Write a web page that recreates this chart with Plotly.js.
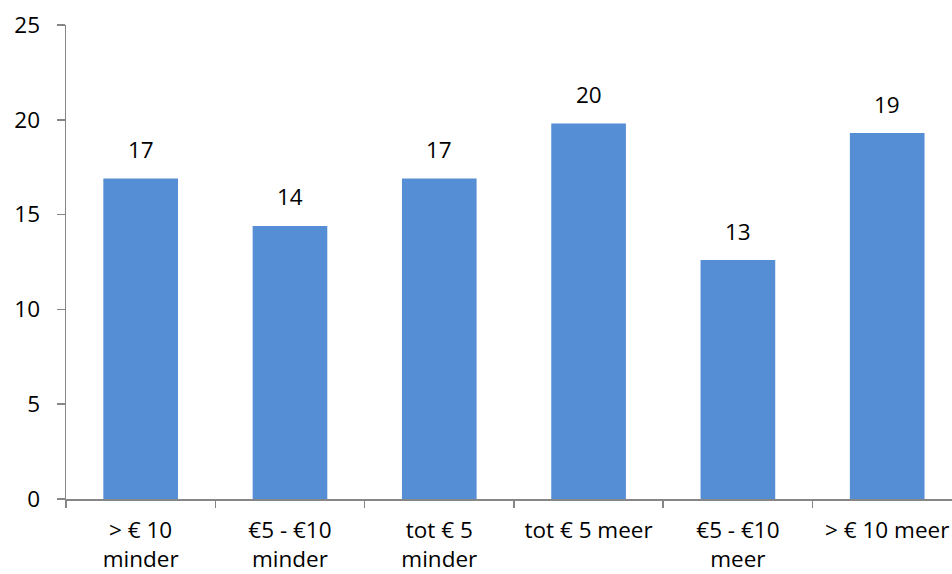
<!DOCTYPE html>
<html><head><meta charset="utf-8">
<script src="https://cdn.plot.ly/plotly-3.0.1.min.js"></script>
<style>html,body{margin:0;padding:0;background:#fff;}#chart{width:952px;height:574px;}</style>
</head><body><div id="chart"></div>
<script>
var categories = ["> € 10<br>minder", "€5 - €10<br>minder", "tot € 5<br>minder", "tot € 5 meer", "€5 - €10<br>meer", "> € 10 meer"];
var values = [16.9, 14.4, 16.9, 19.8, 12.6, 19.3];
var yTicks = [0, 5, 10, 15, 20, 25];

var font = {family: "'Open Sans', 'DejaVu Sans', sans-serif", size: 22.5, color: "#000"};
var idx = categories.map(function(_, i){return i;});

var annotations = values.map(function(v, i){
  return {x: i, y: v, xref: "x", yref: "y", text: String(Math.round(v)), showarrow: false,
          yanchor: "middle", yshift: 29, font: font};
});

var data = [{type: "bar", x: idx, y: values, marker: {color: "#558ED5"}, hoverinfo: "none"}];

var layout = {
  width: 952, height: 574,
  margin: {l: 66, r: 0, t: 25, b: 75},
  paper_bgcolor: "#fff", plot_bgcolor: "#fff",
  showlegend: false, bargap: 0.5,
  font: font,
  xaxis: {range: [-0.5, 5.434], tickmode: "array", tickvals: idx, ticktext: categories,
          showline: true, linecolor: "#868686", linewidth: 1.5, ticks: "", showgrid: false, zeroline: false,
          ticklabelstandoff: 10, tickfont: font, fixedrange: true},
  yaxis: {range: [0, 25], tickmode: "array", tickvals: yTicks, ticks: "outside", ticklen: 8,
          tickcolor: "#868686", tickwidth: 1.5, showline: true, linecolor: "#868686", linewidth: 1.5,
          showgrid: false, zeroline: false, ticklabelstandoff: 12, tickfont: font, fixedrange: true},
  annotations: annotations
};

// boundary ticks on x-axis drawn via a second overlaying axis
layout.xaxis2 = {overlaying: "x", anchor: "y", range: [-0.5, 5.434], tickmode: "array",
  tickvals: idx.concat([idx.length]).map(function(i){return i - 0.5;}), ticks: "outside", ticklen: 8,
  tickcolor: "#868686", tickwidth: 1.5, showticklabels: false, showgrid: false, zeroline: false, showline: false, side: "bottom"};
data.push({type: "scatter", x: [0], y: [0], xaxis: "x2", mode: "none", hoverinfo: "none"});

Plotly.newPlot("chart", data, layout, {staticPlot: true});
</script></body></html>
